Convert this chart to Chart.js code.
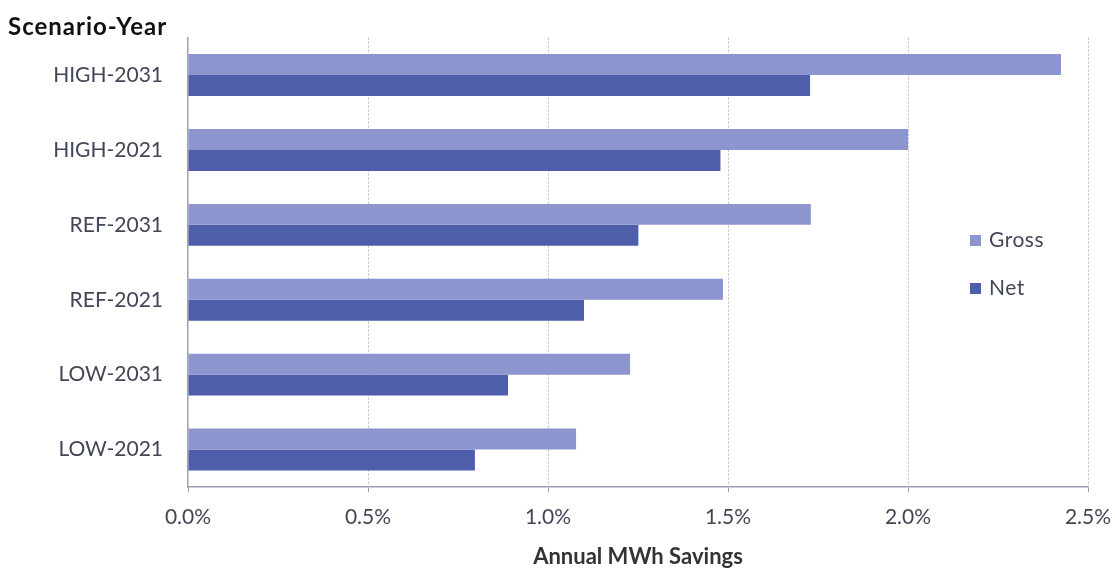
<!DOCTYPE html>
<html>
<head>
<meta charset="utf-8">
<script src="https://cdn.jsdelivr.net/npm/chart.js@4/dist/chart.umd.min.js"></script>
<style>
  html, body { margin: 0; padding: 0; background: #ffffff; }
  #wrap { width: 1115px; height: 570px; position: relative; }
</style>
</head>
<body>
<div id="wrap"><canvas id="c" width="1115" height="570"></canvas></div>
<script>
// Scenario-year categories, top to bottom
const categories = ['HIGH-2031', 'HIGH-2021', 'REF-2031', 'REF-2021', 'LOW-2031', 'LOW-2021'];
// Annual savings, percent of load
const grossValues = [2.425, 2.00, 1.73, 1.486, 1.228, 1.078];
const netValues   = [1.728, 1.479, 1.251, 1.10, 0.889, 0.797];
const seriesNames = ['Gross', 'Net'];
const xTicks = [0, 0.5, 1.0, 1.5, 2.0, 2.5];

const GROSS_COLOR = '#8c95cd';
const NET_COLOR = '#4f5eab';
const TEXT_COLOR = '#434656';
const FONT = 'Lato, "Open Sans", sans-serif';

// Dotted vertical gridlines placed by the x scale
const dottedGrid = {
  id: 'dottedGrid',
  beforeDatasetsDraw(chart) {
    const { ctx, chartArea, scales } = chart;
    ctx.save();
    ctx.strokeStyle = '#b4bccc';
    ctx.lineWidth = 1;
    ctx.setLineDash([2, 2]);
    xTicks.forEach(v => {
      if (v === 0) return;
      const x = Math.round(scales.x.getPixelForValue(v)) + 0.5;
      ctx.beginPath();
      ctx.moveTo(x, chartArea.top);
      ctx.lineTo(x, chartArea.bottom);
      ctx.stroke();
    });
    ctx.restore();
  }
};

// Axis title at the top-left and the in-plot legend
const decorations = {
  id: 'decorations',
  afterDraw(chart) {
    const ctx = chart.ctx;
    ctx.save();
    ctx.fillStyle = '#111111';
    ctx.font = 'bold 24px ' + FONT;
    ctx.letterSpacing = '1px';
    ctx.textBaseline = 'middle';
    ctx.textAlign = 'left';
    ctx.fillText('Scenario-Year', 8, 27);

    const items = chart.data.datasets.map(d => ({ label: d.label, color: d.backgroundColor }));
    const lx = 970, ly = [240, 288];
    ctx.font = '21px ' + FONT;
    ctx.letterSpacing = '0.5px';
    items.forEach((it, i) => {
      ctx.fillStyle = it.color;
      ctx.fillRect(lx, ly[i] - 5, 11, 11);
      ctx.fillStyle = TEXT_COLOR;
      ctx.fillText(it.label, lx + 19, ly[i]);
    });
    ctx.restore();
  }
};

new Chart(document.getElementById('c'), {
  type: 'bar',
  data: {
    labels: categories,
    datasets: [
      { label: seriesNames[0], data: grossValues, backgroundColor: GROSS_COLOR },
      { label: seriesNames[1], data: netValues, backgroundColor: NET_COLOR }
    ]
  },
  options: {
    indexAxis: 'y',
    responsive: false,
    animation: false,
    devicePixelRatio: 1,
    layout: { padding: { top: 37, left: 0, right: 27, bottom: 0 } },
    datasets: { bar: { categoryPercentage: 0.56, barPercentage: 1.0 } },
    plugins: {
      legend: { display: false },
      tooltip: { enabled: false },
      title: { display: false }
    },
    scales: {
      x: {
        min: 0,
        max: 2.5,
        afterBuildTicks(scale) { scale.ticks = xTicks.map(v => ({ value: v })); },
        afterFit(scale) {
          scale.height = 83;
          scale.paddingLeft = 0;
          scale.paddingRight = 0;
        },
        grid: {
          drawOnChartArea: false,
          tickLength: 5,
          tickColor: '#9a9cb5',
          lineWidth: 1
        },
        border: { display: true, color: '#9a9cb5', width: 1.5 },
        ticks: {
          color: TEXT_COLOR,
          font: { family: FONT, size: 21 },
          padding: 13,
          callback: v => Number(v).toFixed(1) + '%'
        },
        title: {
          display: true,
          text: 'Annual MWh Savings',
          color: '#333333',
          font: { family: FONT, size: 22, weight: 'bold' },
          padding: { top: 2, bottom: 0 }
        }
      },
      y: {
        afterFit(scale) { scale.width = 188; },
        grid: { display: false, drawTicks: false },
        border: { display: true, color: '#a0a0ac', width: 1.5 },
        ticks: {
          color: TEXT_COLOR,
          font: { family: FONT, size: 21 },
          padding: 25
        }
      }
    }
  },
  plugins: [dottedGrid, decorations]
});
</script>
</body>
</html>
